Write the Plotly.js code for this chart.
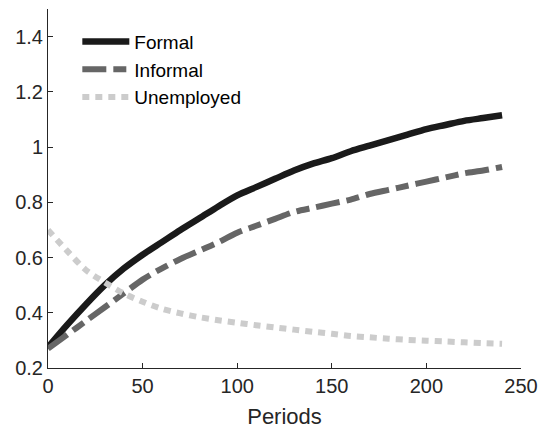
<!DOCTYPE html>
<html>
<head>
<meta charset="utf-8">
<script src="https://cdn.plot.ly/plotly-3.0.1.min.js"></script>
<style>html,body{margin:0;padding:0;background:#fff;}#chart{width:539px;height:429px;}</style>
</head>
<body>
<div id="chart"></div>
<script>
var periods = [0,10,20,30,40,50,60,70,80,90,100,110,120,130,140,150,160,170,180,190,200,210,220,230,240];
var formal = [0.275,0.355,0.43,0.50,0.56,0.61,0.655,0.70,0.742,0.785,0.825,0.855,0.885,0.915,0.94,0.96,0.985,1.005,1.025,1.045,1.065,1.08,1.095,1.105,1.115];
var informal = [0.27,0.32,0.37,0.42,0.47,0.52,0.56,0.595,0.625,0.655,0.69,0.715,0.74,0.765,0.78,0.795,0.81,0.83,0.845,0.86,0.875,0.89,0.905,0.915,0.928];
var unemployed = [0.70,0.625,0.555,0.51,0.47,0.44,0.415,0.398,0.384,0.373,0.364,0.355,0.347,0.339,0.331,0.324,0.316,0.311,0.306,0.302,0.299,0.296,0.293,0.29,0.288];
var xTicks = [0,50,100,150,200,250];
var yTicks = [0.2,0.4,0.6,0.8,1,1.2,1.4];
var yTickText = ['0.2','0.4','0.6','0.8','1','1.2','1.4'];

var traces = [
  {x: periods, y: formal, name: 'Formal', mode: 'lines', line: {color: '#1a1a1a', width: 6.5, shape: 'spline', smoothing: 0.8}},
  {x: periods, y: informal, name: 'Informal', mode: 'lines', line: {color: '#666666', width: 6, dash: '24px,7px,13px,7px', shape: 'spline', smoothing: 0.8}},
  {x: periods, y: unemployed, name: 'Unemployed', mode: 'lines', line: {color: '#cccccc', width: 6, dash: '7px,6px', shape: 'spline', smoothing: 0.8}}
];
var axisCommon = {
  showgrid: false, zeroline: false, showline: true, linecolor: '#262626', linewidth: 1,
  ticks: 'inside', ticklen: 5, tickcolor: '#262626', tickwidth: 1,
  tickfont: {family: 'Liberation Sans, Arial, sans-serif', size: 20, color: '#262626'}
};
var layout = {
  width: 539, height: 429,
  margin: {l: 48, r: 18, t: 9, b: 61, pad: 0},
  paper_bgcolor: '#ffffff', plot_bgcolor: '#ffffff',
  font: {family: 'Liberation Sans, Arial, sans-serif', color: '#262626'},
  showlegend: true,
  legend: {x: 0.062, y: 0.962, xanchor: 'left', yanchor: 'top', bgcolor: 'rgba(0,0,0,0)',
           font: {size: 19, color: '#000000'}, tracegroupgap: 0, itemwidth: 47},
  xaxis: Object.assign({}, axisCommon, {range: [0, 250], tickvals: xTicks,
           title: {text: 'Periods', font: {size: 22, color: '#262626'}, standoff: 18}}),
  yaxis: Object.assign({}, axisCommon, {range: [0.2, 1.5], tickvals: yTicks, ticktext: yTickText})
};
Plotly.newPlot('chart', traces, layout, {displayModeBar: false, staticPlot: true});
</script>
</body>
</html>
